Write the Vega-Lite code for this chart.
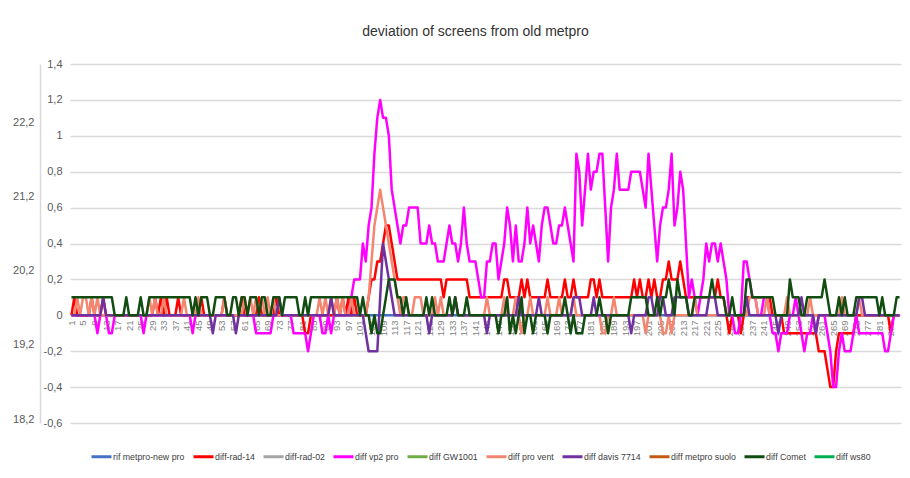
{
"$schema":"https://vega.github.io/schema/vega-lite/v6.json",
"width":831,"height":359,
"autosize":{"type":"none"},
"padding":{"left":70,"top":64,"right":9,"bottom":55},
"background":"white",
"title":{"text":"deviation of screens from old metpro","font":"Liberation Sans","fontSize":14,"fontWeight":"normal","color":"#333333","anchor":"middle","frame":"group","dx":-10,"offset":19},
"config":{"view":{"stroke":null},"font":"Liberation Sans"},
"layer":[
{
"data":{"values":[
{"x":1,"a":0,"b":0,"d":0,"f":0,"g":0,"i":0.1},
{"x":2,"a":0,"b":0.1,"d":0,"f":0,"g":0,"i":0.1},
{"x":3,"a":0,"b":0,"d":0,"f":0.1,"g":0,"i":0.1},
{"x":4,"a":0,"b":0,"d":0,"f":0,"g":0,"i":0.1},
{"x":5,"a":0,"b":0,"d":0,"f":0.1,"g":0,"i":0.1},
{"x":6,"a":0,"b":0,"d":0,"f":0.1,"g":0,"i":0.1},
{"x":7,"a":0,"b":0,"d":0,"f":0,"g":0,"i":0.1},
{"x":8,"a":0,"b":0.1,"d":0,"f":0.1,"g":0,"i":0.1},
{"x":9,"a":0,"b":0,"d":0,"f":0,"g":0,"i":0.1},
{"x":10,"a":0,"b":0,"d":-0.1,"f":0.1,"g":0,"i":0.1},
{"x":11,"a":0,"b":0,"d":0,"f":0,"g":0,"i":0.1},
{"x":12,"a":0,"b":0.1,"d":0,"f":0,"g":0.1,"i":0.1},
{"x":13,"a":0,"b":0,"d":0,"f":0,"g":0,"i":0.1},
{"x":14,"a":0,"b":0,"d":-0.1,"f":0,"g":0,"i":0.1},
{"x":15,"a":0,"b":0,"d":-0.1,"f":0,"g":0,"i":0.1},
{"x":16,"a":0,"b":0,"d":0,"f":0,"g":0,"i":0},
{"x":17,"a":0,"b":0,"d":0,"f":0,"g":0,"i":0},
{"x":18,"a":0,"b":0,"d":0,"f":0,"g":0,"i":0},
{"x":19,"a":0,"b":0,"d":0,"f":0,"g":0,"i":0},
{"x":20,"a":0,"b":0,"d":0,"f":0,"g":0,"i":0.1},
{"x":21,"a":0,"b":0,"d":0,"f":0,"g":0,"i":0},
{"x":22,"a":0,"b":0,"d":0,"f":0,"g":0,"i":0},
{"x":23,"a":0,"b":0,"d":0,"f":0,"g":0,"i":0},
{"x":24,"a":0,"b":0,"d":0,"f":0,"g":0,"i":0},
{"x":25,"a":0,"b":0,"d":0,"f":0,"g":0,"i":0.1},
{"x":26,"a":0,"b":0,"d":-0.1,"f":0,"g":0,"i":0},
{"x":27,"a":0,"b":0,"d":0,"f":0,"g":0,"i":0},
{"x":28,"a":0,"b":0,"d":0,"f":0.1,"g":0,"i":0.1},
{"x":29,"a":0,"b":0,"d":0,"f":0,"g":0,"i":0.1},
{"x":30,"a":0,"b":0.1,"d":0,"f":0.1,"g":0,"i":0.1},
{"x":31,"a":0,"b":0,"d":0,"f":0,"g":0,"i":0.1},
{"x":32,"a":0,"b":0.1,"d":0,"f":0,"g":0,"i":0.1},
{"x":33,"a":0,"b":0,"d":0,"f":0.1,"g":0,"i":0.1},
{"x":34,"a":0,"b":0.1,"d":0,"f":0,"g":0,"i":0.1},
{"x":35,"a":0,"b":0,"d":0,"f":0,"g":0,"i":0.1},
{"x":36,"a":0,"b":0,"d":0,"f":0,"g":0,"i":0.1},
{"x":37,"a":0,"b":0,"d":0,"f":0,"g":0,"i":0.1},
{"x":38,"a":0,"b":0.1,"d":0,"f":0,"g":0,"i":0.1},
{"x":39,"a":0,"b":0,"d":0,"f":0,"g":0,"i":0.1},
{"x":40,"a":0,"b":0,"d":0,"f":0.1,"g":0,"i":0.1},
{"x":41,"a":0,"b":0,"d":0,"f":0,"g":0,"i":0.1},
{"x":42,"a":0,"b":0,"d":0,"f":0,"g":0,"i":0.1},
{"x":43,"a":0,"b":0,"d":-0.1,"f":0,"g":0,"i":0},
{"x":44,"a":0,"b":0,"d":0,"f":0,"g":0,"i":0.1},
{"x":45,"a":0,"b":0,"d":0,"f":0.1,"g":0,"i":0},
{"x":46,"a":0,"b":0.1,"d":0,"f":0,"g":0,"i":0.1},
{"x":47,"a":0,"b":0,"d":0,"f":0,"g":0,"i":0.1},
{"x":48,"a":0,"b":0,"d":0,"f":0,"g":0,"i":0.1},
{"x":49,"a":0,"b":0,"d":0,"f":0,"g":0,"i":0},
{"x":50,"a":0,"b":0,"d":0,"f":0,"g":-0.1,"i":0},
{"x":51,"a":0,"b":0,"d":0,"f":0,"g":0,"i":0.1},
{"x":52,"a":0,"b":0,"d":0,"f":0,"g":0,"i":0.1},
{"x":53,"a":0,"b":0,"d":0,"f":0,"g":0,"i":0.1},
{"x":54,"a":0,"b":0.1,"d":0,"f":0.1,"g":0,"i":0.1},
{"x":55,"a":0,"b":0,"d":0,"f":0,"g":0,"i":0},
{"x":56,"a":0,"b":0,"d":0,"f":0,"g":0,"i":0},
{"x":57,"a":0,"b":0,"d":0,"f":0,"g":0,"i":0.1},
{"x":58,"a":0,"b":0,"d":0,"f":0,"g":-0.1,"i":0.1},
{"x":59,"a":0,"b":0,"d":0,"f":0,"g":0,"i":0},
{"x":60,"a":0,"b":0.1,"d":0,"f":0,"g":0,"i":0.1},
{"x":61,"a":0,"b":0,"d":0,"f":0.1,"g":0,"i":0.1},
{"x":62,"a":0,"b":0,"d":0,"f":0,"g":0,"i":0},
{"x":63,"a":0,"b":0,"d":0,"f":0.1,"g":0,"i":0.1},
{"x":64,"a":0,"b":0,"d":0,"f":0,"g":0,"i":0.1},
{"x":65,"a":0,"b":0,"d":-0.1,"f":0.1,"g":0,"i":0.1},
{"x":66,"a":0,"b":0.1,"d":-0.1,"f":0,"g":0,"i":0},
{"x":67,"a":0,"b":0,"d":-0.1,"f":0.1,"g":0,"i":0.1},
{"x":68,"a":0,"b":0,"d":-0.1,"f":0,"g":0,"i":0.1},
{"x":69,"a":0,"b":0,"d":-0.1,"f":0.1,"g":0,"i":0},
{"x":70,"a":0,"b":0,"d":-0.1,"f":0,"g":0,"i":0},
{"x":71,"a":0,"b":0,"d":0,"f":0.1,"g":0,"i":0.1},
{"x":72,"a":0,"b":0.1,"d":0,"f":0,"g":0,"i":0.1},
{"x":73,"a":0,"b":0,"d":0,"f":0,"g":0.1,"i":0.1},
{"x":74,"a":0,"b":0,"d":0,"f":0,"g":0,"i":0},
{"x":75,"a":0,"b":0,"d":0,"f":0,"g":0,"i":0.1},
{"x":76,"a":0,"b":0,"d":0,"f":0,"g":0,"i":0.1},
{"x":77,"a":0,"b":0,"d":0,"f":0,"g":0,"i":0.1},
{"x":78,"a":0,"b":0,"d":-0.1,"f":0,"g":0,"i":0.1},
{"x":79,"a":0,"b":0,"d":-0.1,"f":0,"g":0,"i":0.1},
{"x":80,"a":0,"b":0,"d":-0.1,"f":0,"g":0,"i":0},
{"x":81,"a":0,"b":0,"d":-0.1,"f":0,"g":0,"i":0},
{"x":82,"a":0,"b":-0.1,"d":-0.1,"f":0,"g":0,"i":0.1},
{"x":83,"a":0,"b":-0.1,"d":-0.2,"f":0,"g":0,"i":0},
{"x":84,"a":0,"b":0,"d":-0.1,"f":0,"g":0,"i":0.1},
{"x":85,"a":0,"b":0,"d":0,"f":0,"g":0,"i":0.1},
{"x":86,"a":0,"b":0,"d":0,"f":0,"g":0,"i":0.1},
{"x":87,"a":0,"b":0,"d":0,"f":0.1,"g":0,"i":0.1},
{"x":88,"a":0,"b":0,"d":-0.1,"f":0,"g":0,"i":0.1},
{"x":89,"a":0,"b":0,"d":-0.1,"f":0.1,"g":0,"i":0.1},
{"x":90,"a":0,"b":0,"d":0,"f":0,"g":0,"i":0.1},
{"x":91,"a":0,"b":0,"d":-0.1,"f":0.1,"g":0.1,"i":0.1},
{"x":92,"a":0,"b":0,"d":0,"f":0,"g":0,"i":0.1},
{"x":93,"a":0,"b":0.1,"d":0,"f":0.1,"g":0,"i":0.1},
{"x":94,"a":0,"b":0,"d":0,"f":0,"g":0,"i":0.1},
{"x":95,"a":0,"b":0.1,"d":0,"f":0.1,"g":0,"i":0.1},
{"x":96,"a":0,"b":0,"d":0,"f":0,"g":0,"i":0.1},
{"x":97,"a":0,"b":0.1,"d":0,"f":0,"g":0,"i":0.1},
{"x":98,"a":0,"b":0,"d":0.1,"f":0.1,"g":0,"i":0.1},
{"x":99,"a":0,"b":0.1,"d":0.2,"f":0,"g":0,"i":0.1},
{"x":100,"a":0,"b":0,"d":0.2,"f":0,"g":0,"i":0.1},
{"x":101,"a":0,"b":0,"d":0.2,"f":0,"g":0,"i":0},
{"x":102,"a":0,"b":0,"d":0.4,"f":0,"g":0,"i":0.1},
{"x":103,"a":0,"b":0,"d":0.3,"f":0,"g":-0.1,"i":0},
{"x":104,"a":0,"b":0.1,"d":0.5,"f":0.1,"g":-0.2,"i":0},
{"x":105,"a":0,"b":0.2,"d":0.6,"f":0.3,"g":-0.2,"i":-0.1},
{"x":106,"a":0,"b":0.2,"d":0.9,"f":0.5,"g":-0.2,"i":0},
{"x":107,"a":0,"b":0.3,"d":1.1,"f":0.6,"g":-0.2,"i":-0.1},
{"x":108,"a":0,"b":0.3,"d":1.2,"f":0.7,"g":0.1,"i":-0.1},
{"x":109,"a":0,"b":0.4,"d":1.1,"f":0.6,"g":0.4,"i":0},
{"x":110,"a":0,"b":0.5,"d":1.1,"f":0.5,"g":0.3,"i":0.1},
{"x":111,"a":0,"b":0.5,"d":1.0,"f":0.4,"g":0.2,"i":0.2},
{"x":112,"a":0,"b":0.4,"d":0.7,"f":0.3,"g":0.1,"i":0.2},
{"x":113,"a":0,"b":0.3,"d":0.6,"f":0.2,"g":0,"i":0.2},
{"x":114,"a":0,"b":0.2,"d":0.5,"f":0.1,"g":0,"i":0.1},
{"x":115,"a":0,"b":0.2,"d":0.4,"f":0,"g":0,"i":0.1},
{"x":116,"a":0,"b":0.2,"d":0.5,"f":0.1,"g":0,"i":0},
{"x":117,"a":0,"b":0.2,"d":0.5,"f":0.1,"g":0,"i":0.1},
{"x":118,"a":0,"b":0.2,"d":0.6,"f":0,"g":0,"i":0},
{"x":119,"a":0,"b":0.2,"d":0.6,"f":0,"g":0,"i":0},
{"x":120,"a":0,"b":0.2,"d":0.6,"f":0.1,"g":0,"i":0},
{"x":121,"a":0,"b":0.2,"d":0.6,"f":0.1,"g":0,"i":0},
{"x":122,"a":0,"b":0.2,"d":0.4,"f":0.1,"g":0,"i":0},
{"x":123,"a":0,"b":0.2,"d":0.4,"f":0,"g":0,"i":0},
{"x":124,"a":0,"b":0.2,"d":0.4,"f":0,"g":0,"i":0.1},
{"x":125,"a":0,"b":0.2,"d":0.5,"f":0,"g":-0.1,"i":0},
{"x":126,"a":0,"b":0.2,"d":0.4,"f":0,"g":0,"i":0.1},
{"x":127,"a":0,"b":0.2,"d":0.4,"f":0.1,"g":0,"i":0},
{"x":128,"a":0,"b":0.2,"d":0.3,"f":0,"g":0,"i":0},
{"x":129,"a":0,"b":0.2,"d":0.3,"f":0.1,"g":0,"i":0},
{"x":130,"a":0,"b":0.1,"d":0.3,"f":0,"g":0,"i":0},
{"x":131,"a":0,"b":0.2,"d":0.4,"f":0,"g":0,"i":0},
{"x":132,"a":0,"b":0.2,"d":0.5,"f":0,"g":0,"i":0.1},
{"x":133,"a":0,"b":0.2,"d":0.4,"f":0,"g":0,"i":0},
{"x":134,"a":0,"b":0.2,"d":0.4,"f":0.1,"g":0.1,"i":0.1},
{"x":135,"a":0,"b":0.2,"d":0.3,"f":0,"g":0,"i":0},
{"x":136,"a":0,"b":0.2,"d":0.4,"f":0,"g":0,"i":0},
{"x":137,"a":0,"b":0.2,"d":0.6,"f":0,"g":0,"i":0},
{"x":138,"a":0,"b":0.2,"d":0.4,"f":0,"g":0,"i":0.1},
{"x":139,"a":0,"b":0.1,"d":0.3,"f":0,"g":0,"i":0},
{"x":140,"a":0,"b":0.1,"d":0.3,"f":0,"g":0,"i":0},
{"x":141,"a":0,"b":0.1,"d":0.3,"f":0,"g":0,"i":0},
{"x":142,"a":0,"b":0.1,"d":0.2,"f":0,"g":0,"i":0},
{"x":143,"a":0,"b":0.1,"d":0.1,"f":0,"g":0,"i":0},
{"x":144,"a":0,"b":0.1,"d":0.1,"f":0,"g":0,"i":0},
{"x":145,"a":0,"b":0.1,"d":0.3,"f":0.1,"g":-0.1,"i":0},
{"x":146,"a":0,"b":0.1,"d":0.3,"f":0,"g":0,"i":0},
{"x":147,"a":0,"b":0.1,"d":0.4,"f":0,"g":0,"i":0},
{"x":148,"a":0,"b":0.1,"d":0.4,"f":0,"g":0,"i":0},
{"x":149,"a":0,"b":0.1,"d":0.2,"f":0,"g":0,"i":-0.1},
{"x":150,"a":0,"b":0.1,"d":0.3,"f":0,"g":0,"i":0},
{"x":151,"a":0,"b":0.2,"d":0.4,"f":0.1,"g":0,"i":0},
{"x":152,"a":0,"b":0.2,"d":0.6,"f":0,"g":0,"i":0.1},
{"x":153,"a":0,"b":0.1,"d":0.5,"f":0,"g":0,"i":-0.1},
{"x":154,"a":0,"b":0.1,"d":0.3,"f":0,"g":0,"i":0},
{"x":155,"a":0,"b":0.1,"d":0.5,"f":0.1,"g":0,"i":-0.1},
{"x":156,"a":0,"b":0.1,"d":0.3,"f":0,"g":0.1,"i":0},
{"x":157,"a":0,"b":0.2,"d":0.3,"f":-0.1,"g":0,"i":0.1},
{"x":158,"a":0,"b":0.1,"d":0.4,"f":0,"g":0,"i":-0.1},
{"x":159,"a":0,"b":0.2,"d":0.6,"f":0,"g":0,"i":0},
{"x":160,"a":0,"b":0.1,"d":0.4,"f":0.1,"g":0,"i":0},
{"x":161,"a":0,"b":0.1,"d":0.5,"f":0,"g":0,"i":-0.1},
{"x":162,"a":0,"b":0.1,"d":0.4,"f":0,"g":0,"i":0},
{"x":163,"a":0,"b":0.1,"d":0.3,"f":0,"g":0.1,"i":0},
{"x":164,"a":0,"b":0.1,"d":0.5,"f":0,"g":0,"i":0},
{"x":165,"a":0,"b":0.1,"d":0.6,"f":0,"g":0,"i":0},
{"x":166,"a":0,"b":0.2,"d":0.6,"f":0.1,"g":0,"i":-0.1},
{"x":167,"a":0,"b":0.1,"d":0.5,"f":0,"g":0,"i":0},
{"x":168,"a":0,"b":0.1,"d":0.4,"f":0,"g":0,"i":0},
{"x":169,"a":0,"b":0.1,"d":0.4,"f":0,"g":0,"i":0},
{"x":170,"a":0,"b":0.1,"d":0.5,"f":0.1,"g":0,"i":0},
{"x":171,"a":0,"b":0.1,"d":0.5,"f":0,"g":0,"i":0},
{"x":172,"a":0,"b":0.2,"d":0.6,"f":0,"g":0,"i":0.1},
{"x":173,"a":0,"b":0.1,"d":0.5,"f":0,"g":0,"i":0},
{"x":174,"a":0,"b":0.1,"d":0.4,"f":0,"g":0,"i":-0.1},
{"x":175,"a":0,"b":0.2,"d":0.3,"f":0.1,"g":0.1,"i":0},
{"x":176,"a":0,"b":0.1,"d":0.9,"f":0,"g":0.1,"i":-0.1},
{"x":177,"a":0,"b":0.1,"d":0.8,"f":0,"g":0.1,"i":-0.1},
{"x":178,"a":0,"b":0.1,"d":0.5,"f":0,"g":0,"i":-0.1},
{"x":179,"a":0,"b":0.1,"d":0.7,"f":0,"g":0,"i":0},
{"x":180,"a":0,"b":0.1,"d":0.9,"f":0,"g":0,"i":0},
{"x":181,"a":0,"b":0.2,"d":0.7,"f":0,"g":0,"i":0},
{"x":182,"a":0,"b":0.2,"d":0.8,"f":0,"g":0.1,"i":0},
{"x":183,"a":0,"b":0.1,"d":0.8,"f":0,"g":0,"i":0},
{"x":184,"a":0,"b":0.2,"d":0.9,"f":0,"g":0,"i":0.1},
{"x":185,"a":0,"b":0.1,"d":0.9,"f":-0.1,"g":0,"i":0},
{"x":186,"a":0,"b":0.1,"d":0.6,"f":-0.1,"g":0,"i":0},
{"x":187,"a":0,"b":0.1,"d":0.3,"f":0,"g":0,"i":-0.1},
{"x":188,"a":0,"b":0.1,"d":0.6,"f":0,"g":0,"i":0},
{"x":189,"a":0,"b":0.1,"d":0.7,"f":0.1,"g":0,"i":0},
{"x":190,"a":0,"b":0.1,"d":0.9,"f":0,"g":0,"i":0},
{"x":191,"a":0,"b":0.1,"d":0.7,"f":0,"g":0,"i":0},
{"x":192,"a":0,"b":0.1,"d":0.7,"f":0,"g":0,"i":0},
{"x":193,"a":0,"b":0.1,"d":0.7,"f":0,"g":0,"i":0},
{"x":194,"a":0,"b":0.1,"d":0.7,"f":0,"g":0,"i":0},
{"x":195,"a":0,"b":0.1,"d":0.8,"f":0,"g":-0.1,"i":0.1},
{"x":196,"a":0,"b":0.2,"d":0.8,"f":0,"g":0,"i":0.1},
{"x":197,"a":0,"b":0.1,"d":0.8,"f":0,"g":0,"i":0.1},
{"x":198,"a":0,"b":0.2,"d":0.8,"f":0,"g":0,"i":0.1},
{"x":199,"a":0,"b":0.1,"d":0.7,"f":0,"g":0,"i":0.1},
{"x":200,"a":0,"b":0.1,"d":0.6,"f":-0.1,"g":0,"i":0.1},
{"x":201,"a":0,"b":0.2,"d":0.9,"f":0,"g":0.1,"i":0},
{"x":202,"a":0,"b":0.1,"d":0.7,"f":0,"g":0.1,"i":0},
{"x":203,"a":0,"b":0.2,"d":0.5,"f":0,"g":0,"i":0},
{"x":204,"a":0,"b":0.1,"d":0.3,"f":0,"g":0,"i":0.1},
{"x":205,"a":0,"b":0.1,"d":0.5,"f":0,"g":0.1,"i":0},
{"x":206,"a":0,"b":0.2,"d":0.6,"f":-0.1,"g":0.1,"i":0.1},
{"x":207,"a":0,"b":0.2,"d":0.6,"f":-0.1,"g":0,"i":0.1},
{"x":208,"a":0,"b":0.3,"d":0.7,"f":0,"g":0,"i":0.2},
{"x":209,"a":0,"b":0.2,"d":0.9,"f":-0.1,"g":0,"i":0.1},
{"x":210,"a":0,"b":0.2,"d":0.5,"f":0,"g":0.1,"i":0},
{"x":211,"a":0,"b":0.2,"d":0.6,"f":0,"g":0.1,"i":0.2},
{"x":212,"a":0,"b":0.3,"d":0.8,"f":0,"g":0.1,"i":0.1},
{"x":213,"a":0,"b":0.2,"d":0.7,"f":0,"g":0.1,"i":0.1},
{"x":214,"a":0,"b":0.1,"d":0.4,"f":0,"g":0.1,"i":0.1},
{"x":215,"a":0,"b":0.1,"d":0.1,"f":0,"g":0,"i":0},
{"x":216,"a":0,"b":0.1,"d":0.2,"f":0,"g":0,"i":0},
{"x":217,"a":0,"b":0.1,"d":0.1,"f":0.1,"g":0,"i":0.1},
{"x":218,"a":0,"b":0.1,"d":0,"f":0,"g":0,"i":0.1},
{"x":219,"a":0,"b":0.1,"d":0.1,"f":0,"g":0,"i":0.1},
{"x":220,"a":0,"b":0.1,"d":0.2,"f":0,"g":0,"i":0.1},
{"x":221,"a":0,"b":0.1,"d":0.4,"f":0,"g":0,"i":0.1},
{"x":222,"a":0,"b":0.1,"d":0.3,"f":0,"g":0.1,"i":0.1},
{"x":223,"a":0,"b":0.1,"d":0.4,"f":0,"g":0.1,"i":0.2},
{"x":224,"a":0,"b":0.1,"d":0.4,"f":0,"g":0.1,"i":0.1},
{"x":225,"a":0,"b":0.2,"d":0.3,"f":0,"g":0,"i":0.1},
{"x":226,"a":0,"b":0.1,"d":0.4,"f":0,"g":0,"i":0.1},
{"x":227,"a":0,"b":0.1,"d":0.3,"f":0,"g":0,"i":0.1},
{"x":228,"a":0,"b":0,"d":0.2,"f":0,"g":0,"i":0},
{"x":229,"a":0,"b":-0.1,"d":0,"f":0,"g":0,"i":0},
{"x":230,"a":0,"b":0,"d":0,"f":0,"g":0,"i":0.1},
{"x":231,"a":0,"b":0,"d":-0.1,"f":0,"g":0,"i":0},
{"x":232,"a":0,"b":0,"d":-0.1,"f":0,"g":0,"i":0},
{"x":233,"a":0,"b":-0.1,"d":0,"f":0,"g":0,"i":0},
{"x":234,"a":0,"b":0,"d":0.3,"f":0,"g":0,"i":0},
{"x":235,"a":0,"b":0.1,"d":0.3,"f":0,"g":0.1,"i":0.2},
{"x":236,"a":0,"b":0.1,"d":0.2,"f":0.1,"g":0,"i":0.2},
{"x":237,"a":0,"b":0.1,"d":0.1,"f":0.1,"g":0,"i":0.1},
{"x":238,"a":0,"b":0.1,"d":0.1,"f":0.1,"g":0,"i":0.1},
{"x":239,"a":0,"b":0.1,"d":0,"f":0,"g":0,"i":0.1},
{"x":240,"a":0,"b":0.1,"d":0,"f":0,"g":0,"i":0.1},
{"x":241,"a":0,"b":0.1,"d":0.1,"f":0,"g":0,"i":0.1},
{"x":242,"a":0,"b":0.1,"d":0.1,"f":0.1,"g":0,"i":0.1},
{"x":243,"a":0,"b":0.1,"d":0,"f":0,"g":0,"i":0.1},
{"x":244,"a":0,"b":0,"d":-0.1,"f":0,"g":0,"i":0.1},
{"x":245,"a":0,"b":0,"d":-0.1,"f":0,"g":0,"i":0},
{"x":246,"a":0,"b":0,"d":-0.2,"f":0,"g":-0.1,"i":0},
{"x":247,"a":0,"b":0,"d":-0.1,"f":0,"g":0,"i":0},
{"x":248,"a":0,"b":-0.1,"d":-0.1,"f":0,"g":0,"i":0},
{"x":249,"a":0,"b":-0.1,"d":-0.1,"f":0.1,"g":0,"i":0},
{"x":250,"a":0,"b":-0.1,"d":0,"f":0,"g":0,"i":0.2},
{"x":251,"a":0,"b":-0.1,"d":0,"f":0,"g":0,"i":0.1},
{"x":252,"a":0,"b":-0.1,"d":0.1,"f":0,"g":0,"i":0.1},
{"x":253,"a":0,"b":-0.1,"d":0,"f":0,"g":0,"i":0.1},
{"x":254,"a":0,"b":-0.1,"d":-0.1,"f":0,"g":0.1,"i":0},
{"x":255,"a":0,"b":-0.1,"d":-0.2,"f":0,"g":0,"i":0},
{"x":256,"a":0,"b":-0.1,"d":-0.1,"f":0,"g":0,"i":0.1},
{"x":257,"a":0,"b":-0.1,"d":-0.1,"f":0.1,"g":0,"i":0.1},
{"x":258,"a":0,"b":-0.1,"d":0,"f":0,"g":0,"i":0.1},
{"x":259,"a":0,"b":-0.1,"d":-0.1,"f":0,"g":-0.1,"i":0.1},
{"x":260,"a":0,"b":-0.2,"d":0,"f":0,"g":0,"i":0.1},
{"x":261,"a":0,"b":-0.2,"d":0,"f":0,"g":0,"i":0.1},
{"x":262,"a":0,"b":-0.2,"d":0,"f":0,"g":0,"i":0.2},
{"x":263,"a":0,"b":-0.3,"d":-0.1,"f":0,"g":0,"i":0.1},
{"x":264,"a":0,"b":-0.4,"d":-0.2,"f":0,"g":0,"i":0},
{"x":265,"a":0,"b":-0.4,"d":-0.4,"f":0,"g":0,"i":0},
{"x":266,"a":0,"b":-0.2,"d":-0.4,"f":0,"g":0,"i":0},
{"x":267,"a":0,"b":-0.1,"d":-0.2,"f":0,"g":0,"i":0.1},
{"x":268,"a":0,"b":-0.1,"d":-0.1,"f":0.1,"g":0,"i":0},
{"x":269,"a":0,"b":-0.1,"d":-0.2,"f":0,"g":0,"i":0.1},
{"x":270,"a":0,"b":-0.1,"d":-0.2,"f":0,"g":0,"i":0},
{"x":271,"a":0,"b":-0.1,"d":-0.2,"f":0,"g":0,"i":0},
{"x":272,"a":0,"b":-0.1,"d":-0.1,"f":0,"g":0,"i":0},
{"x":273,"a":0,"b":0,"d":0,"f":0,"g":0,"i":0.1},
{"x":274,"a":0,"b":0,"d":-0.1,"f":0.1,"g":0.1,"i":0.1},
{"x":275,"a":0,"b":0,"d":-0.1,"f":0,"g":0.1,"i":0.1},
{"x":276,"a":0,"b":0,"d":-0.1,"f":0,"g":0,"i":0.1},
{"x":277,"a":0,"b":0,"d":-0.1,"f":0,"g":0,"i":0.1},
{"x":278,"a":0,"b":0,"d":-0.1,"f":0,"g":0,"i":0.1},
{"x":279,"a":0,"b":0,"d":-0.1,"f":0,"g":0,"i":0.1},
{"x":280,"a":0,"b":0,"d":-0.1,"f":0,"g":0,"i":0.1},
{"x":281,"a":0,"b":0,"d":-0.1,"f":0,"g":0,"i":0},
{"x":282,"a":0,"b":0,"d":-0.1,"f":0,"g":0,"i":0.1},
{"x":283,"a":0,"b":0,"d":-0.2,"f":0,"g":0,"i":0},
{"x":284,"a":0,"b":0,"d":-0.2,"f":0,"g":0,"i":0},
{"x":285,"a":0,"b":-0.1,"d":-0.1,"f":0,"g":0,"i":0},
{"x":286,"a":0,"b":0,"d":0,"f":0,"g":0,"i":0},
{"x":287,"a":0,"b":0,"d":0,"f":0,"g":0,"i":0.1},
{"x":288,"a":0,"b":0,"d":0,"f":0,"g":0,"i":0.1}
]},
"transform":[{"fold":["a","b","d","f","g","i"],"as":["s","v"]}],
"mark":{"type":"line","strokeWidth":2.5,"strokeJoin":"round"},
"encoding":{
"x":{"field":"x","type":"quantitative","scale":{"domain":[0.5,288.5],"nice":false,"zero":false},
"axis":{"title":null,"values":[1,5,9,13,17,21,25,29,33,37,41,45,49,53,57,61,65,69,73,77,81,85,89,93,97,101,105,109,113,117,121,125,129,133,137,141,145,149,153,157,161,165,169,173,177,181,185,189,193,197,201,205,209,213,217,221,225,229,233,237,241,245,249,253,257,261,265,269,273,277,281,285],
"offset":-107,"domain":false,"ticks":false,"grid":false,"labelAngle":-90,"labelAlign":"right","labelBaseline":"middle","labelPadding":4,"labelFontSize":9.5,"labelColor":"#7f7f7f","labelOverlap":false,"labelFlush":false}},
"y":{"field":"v","type":"quantitative","scale":{"domain":[-0.6,1.4],"nice":false,"zero":false},
"axis":{"title":null,"values":[-0.6,-0.4,-0.2,0,0.2,0.4,0.6,0.8,1,1.2,1.4],"labelExpr":"replace(toString(datum.value),'.',',')","domain":false,"ticks":false,"grid":true,"gridColor":"#d9d9d9","gridWidth":1.5,"labelPadding":8,"labelFontSize":11,"labelColor":"#595959"}},
"color":{"field":"s","type":"nominal",
"scale":{"domain":["a","b","c","d","e","f","g","h","i","j"],"range":["#4472C4","#FF0000","#A5A5A5","#FF00FF","#70AD47","#F4856F","#7030A0","#C55A11","#114D11","#00B050"]},
"legend":{"title":null,"orient":"none","legendX":20,"legendY":381,"direction":"horizontal","columns":10,"symbolType":"stroke","symbolSize":400,"symbolStrokeWidth":3,"labelFontSize":8.8,"labelColor":"#404040","labelOffset":0,"columnPadding":2,
"labelExpr":"datum.label=='a'?'rif metpro-new pro':datum.label=='b'?'diff-rad-14':datum.label=='c'?'diff-rad-02':datum.label=='d'?'diff vp2 pro':datum.label=='e'?'diff GW1001':datum.label=='f'?'diff pro vent':datum.label=='g'?'diff davis 7714':datum.label=='h'?'diff metpro suolo':datum.label=='i'?'diff Comet':'diff ws80'"}}
}
},
{
"data":{"values":[{"t":18.2},{"t":19.2},{"t":20.2},{"t":21.2},{"t":22.2}]},
"mark":{"type":"tick","opacity":0},
"encoding":{"y":{"field":"t","type":"quantitative","scale":{"domain":[18.146,22.997],"nice":false,"zero":false},
"axis":{"orient":"left","offset":30,"title":null,"values":[18.2,19.2,20.2,21.2,22.2],"labelExpr":"replace(toString(datum.value),'.',',')","grid":false,"ticks":false,"domain":true,"domainColor":"#d9d9d9","domainWidth":1.5,"labelPadding":6,"labelFontSize":11,"labelColor":"#595959"}}}
}
],
"resolve":{"scale":{"y":"independent"}}
}
